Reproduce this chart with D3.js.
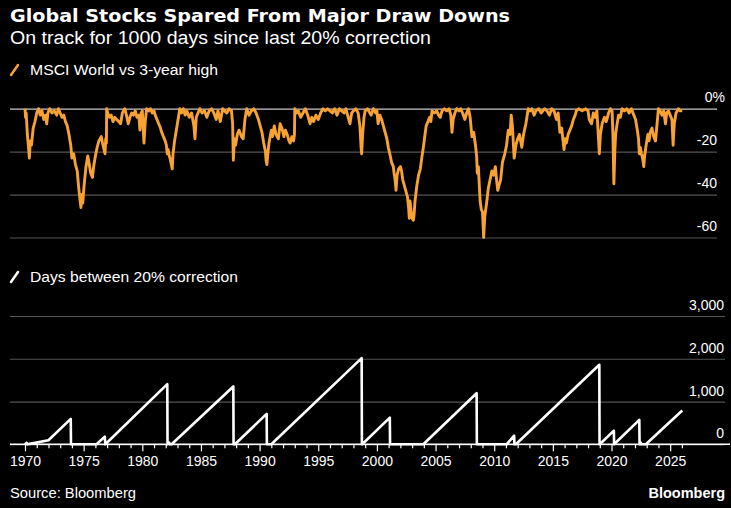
<!DOCTYPE html>
<html>
<head>
<meta charset="utf-8">
<script src="https://cdn.jsdelivr.net/npm/d3@7"></script>
<style>
  body { margin: 0; background: #000; }
  svg text { font-family: "Liberation Sans", Arial, sans-serif; fill: #fff; }
</style>
</head>
<body>
<div id="chart"></div>
<script>
// MSCI World vs 3-year high, % (year, value)
var drawdown = [
  [1970.00,0],[1970.05,-4],[1970.10,-2],[1970.20,-12],[1970.30,-18],[1970.37,-23],[1970.45,-15],[1970.55,-17],
  [1970.70,-9],[1970.85,-6],[1971.00,-2],[1971.15,0],[1971.30,-3],[1971.45,-1],[1971.60,-5],[1971.75,-3],
  [1971.85,-7],[1971.95,-2],[1972.10,0],[1972.30,-2],[1972.50,-1],[1972.70,-3],[1972.85,0],[1973.00,-2],
  [1973.15,-4],[1973.30,-3],[1973.45,-6],[1973.60,-8],[1973.75,-12],[1973.90,-17],[1974.00,-23],[1974.15,-21],
  [1974.30,-26],[1974.45,-29],[1974.60,-38],[1974.72,-44],[1974.77,-46],[1974.85,-40],[1974.92,-44],[1975.05,-35],
  [1975.20,-27],[1975.35,-22],[1975.45,-25],[1975.60,-30],[1975.75,-32],[1975.85,-27],[1976.00,-22],[1976.15,-18],
  [1976.30,-15],[1976.50,-13],[1976.65,-17],[1976.82,-21],[1976.88,-14],[1976.94,-16],[1976.96,0],[1977.05,-2],
  [1977.20,-4],[1977.35,-3],[1977.50,-6],[1977.65,-4],[1977.80,-5],[1978.00,-6],[1978.15,-7],[1978.30,-2],
  [1978.50,0],[1978.65,-3],[1978.80,-7],[1978.95,-4],[1979.10,-2],[1979.25,-3],[1979.40,-1],[1979.55,-4],
  [1979.70,-3],[1979.80,-10],[1979.90,-2],[1980.00,-1],[1980.14,-16],[1980.25,-6],[1980.37,0],[1980.55,-1],
  [1980.70,0],[1980.85,-2],[1981.00,-1],[1981.10,-3],[1981.25,-5],[1981.40,-7],[1981.55,-9],[1981.65,-11],
  [1981.80,-13],[1981.95,-15],[1982.05,-17],[1982.13,-21],[1982.20,-19],[1982.30,-22],[1982.40,-24],[1982.55,-28],
  [1982.62,-21],[1982.75,-15],[1982.90,-10],[1983.05,-5],[1983.20,0],[1983.35,-2],[1983.50,0],[1983.65,-3],
  [1983.80,-1],[1984.00,-4],[1984.20,-2],[1984.40,-8],[1984.49,-14],[1984.60,-4],[1984.75,-2],[1984.90,0],
  [1985.10,-2],[1985.30,-1],[1985.50,-4],[1985.70,-1],[1985.90,0],[1986.10,-2],[1986.30,-5],[1986.45,-1],
  [1986.65,-6],[1986.85,0],[1987.00,-1],[1987.20,-2],[1987.40,0],[1987.60,-1],[1987.70,-7],[1987.76,-24],
  [1987.85,-14],[1987.95,-17],[1988.10,-12],[1988.25,-10],[1988.45,-13],[1988.60,-14],[1988.75,-5],[1988.90,0],
  [1989.10,-3],[1989.30,-1],[1989.50,0],[1989.70,-2],[1989.90,-5],[1990.05,-8],[1990.20,-11],[1990.35,-16],
  [1990.50,-20],[1990.55,-24],[1990.62,-26],[1990.70,-21],[1990.80,-16],[1991.00,-10],[1991.10,-13],[1991.25,-8],
  [1991.40,-12],[1991.60,-14],[1991.75,-7],[1991.90,-9],[1992.07,-13],[1992.20,-10],[1992.35,-12],[1992.50,-15],
  [1992.60,-16],[1992.75,-13],[1992.90,-15],[1992.97,-12],[1993.00,0],[1993.15,-2],[1993.30,-1],[1993.50,-4],
  [1993.70,-2],[1993.90,0],[1994.10,-3],[1994.30,-7],[1994.45,-4],[1994.60,-6],[1994.80,-3],[1995.00,-5],
  [1995.20,-2],[1995.40,0],[1995.60,-1],[1995.80,0],[1996.00,-1],[1996.20,-2],[1996.40,0],[1996.60,-3],
  [1996.80,0],[1997.00,-1],[1997.20,-2],[1997.35,0],[1997.55,-4],[1997.70,-7],[1997.85,-2],[1998.00,-1],
  [1998.20,0],[1998.40,-2],[1998.55,-8],[1998.65,-18],[1998.70,-21],[1998.78,-12],[1998.90,-4],[1999.00,-1],
  [1999.20,0],[1999.30,-1],[1999.50,-3],[1999.70,0],[1999.90,-2],[2000.00,-1],[2000.10,-7],[2000.25,-3],
  [2000.40,-5],[2000.55,-8],[2000.70,-11],[2000.85,-14],[2000.97,-18],[2001.10,-21],[2001.25,-25],[2001.40,-27],
  [2001.46,-30],[2001.55,-33],[2001.63,-38],[2001.72,-31],[2001.85,-28],[2002.00,-27],[2002.10,-29],[2002.20,-33],
  [2002.30,-35],[2002.45,-38],[2002.60,-41],[2002.70,-46],[2002.76,-51],[2002.82,-43],[2002.90,-47],[2003.00,-51],
  [2003.10,-52],[2003.16,-50],[2003.25,-43],[2003.40,-36],[2003.55,-31],[2003.70,-28],[2003.85,-22],[2003.96,-18],
  [2004.10,-12],[2004.20,-8],[2004.35,-6],[2004.50,-4],[2004.60,-6],[2004.70,-1],[2004.90,-2],[2005.10,-1],
  [2005.25,-3],[2005.40,-4],[2005.55,-1],[2005.75,0],[2005.95,-1],[2006.15,0],[2006.30,-3],[2006.40,-11],
  [2006.50,-5],[2006.65,-2],[2006.80,0],[2007.00,-1],[2007.15,0],[2007.30,-2],[2007.50,-5],[2007.65,-2],
  [2007.80,0],[2007.95,-4],[2008.10,-13],[2008.25,-11],[2008.40,-17],[2008.50,-22],[2008.56,-30],[2008.65,-27],
  [2008.75,-38],[2008.80,-43],[2008.90,-47],[2009.00,-48],[2009.10,-60],[2009.20,-50],[2009.35,-44],[2009.50,-37],
  [2009.65,-33],[2009.80,-29],[2009.95,-31],[2010.10,-27],[2010.20,-33],[2010.30,-38],[2010.40,-36],[2010.55,-33],
  [2010.70,-25],[2010.90,-21],[2011.05,-17],[2011.20,-10],[2011.35,-12],[2011.45,-3],[2011.55,-8],[2011.70,-23],
  [2011.85,-17],[2012.00,-14],[2012.15,-12],[2012.35,-18],[2012.50,-12],[2012.70,-7],[2012.90,0],[2013.05,-1],
  [2013.20,0],[2013.40,-3],[2013.55,-1],[2013.80,0],[2014.00,-2],[2014.15,-1],[2014.30,0],[2014.50,-1],
  [2014.70,-3],[2014.90,0],[2015.10,-1],[2015.30,-5],[2015.45,-2],[2015.60,-11],[2015.75,-9],[2015.85,-14],
  [2015.95,-19],[2016.05,-14],[2016.15,-16],[2016.30,-12],[2016.45,-10],[2016.60,-8],[2016.75,-5],[2016.90,-3],
  [2017.00,-1],[2017.20,0],[2017.50,-1],[2017.80,0],[2018.00,-1],[2018.10,-5],[2018.30,-7],[2018.45,-2],
  [2018.60,-4],[2018.75,-1],[2018.85,-10],[2018.96,-21],[2019.05,-12],[2019.20,-7],[2019.40,-4],[2019.55,-6],
  [2019.75,-2],[2019.90,0],[2020.05,-1],[2020.12,-12],[2020.20,-35],[2020.28,-20],[2020.35,-12],[2020.45,-8],
  [2020.60,-3],[2020.75,-4],[2020.90,0],[2021.10,-1],[2021.30,0],[2021.50,-2],[2021.70,0],[2021.90,-3],
  [2022.05,-5],[2022.20,-10],[2022.30,-14],[2022.37,-21],[2022.45,-18],[2022.55,-21],[2022.65,-23],[2022.75,-27],
  [2022.82,-22],[2022.95,-17],[2023.10,-12],[2023.20,-15],[2023.30,-11],[2023.45,-9],[2023.60,-13],[2023.75,-15],
  [2023.85,-9],[2024.00,0],[2024.15,-1],[2024.30,-3],[2024.45,-1],[2024.60,-7],[2024.70,-2],[2024.85,-1],
  [2025.00,-3],[2025.15,-5],[2025.25,-17],[2025.35,-7],[2025.50,-2],[2025.70,0],[2025.85,-1],[2026.03,-1]
];

// Days between 20% correction (year, days)
var daysSince = [
  [1970.00,0],[1970.12,35],[1970.20,0],[1970.40,10],[1972.00,95],[1973.90,594],[1973.92,0],[1976.10,0],
  [1976.80,180],[1976.85,0],[1982.13,1406],[1982.15,0],[1982.30,40],[1982.35,0],[1982.50,0],[1987.76,1352],
  [1987.78,0],[1987.90,0],[1990.60,711],[1990.62,0],[1991.00,0],[1998.70,2016],[1998.72,0],[1998.75,0],
  [2001.10,625],[2001.12,0],[2003.96,0],[2008.50,1195],[2008.52,0],[2011.06,0],[2011.70,203],[2011.72,0],
  [2011.85,0],[2018.96,1860],[2018.98,0],[2019.00,0],[2020.20,320],[2020.22,0],[2022.37,570],[2022.39,0],
  [2022.50,40],[2022.55,0],[2022.93,0],[2026.03,790]
];

var topTicks = [0, -20, -40, -60];
var bottomTicks = [0, 1000, 2000, 3000];
var yearTicks = [1970,1971,1972,1973,1974,1975,1976,1977,1978,1979,1980,1981,1982,1983,1984,1985,1986,1987,
  1988,1989,1990,1991,1992,1993,1994,1995,1996,1997,1998,1999,2000,2001,2002,2003,2004,2005,2006,2007,2008,
  2009,2010,2011,2012,2013,2014,2015,2016,2017,2018,2019,2020,2021,2022,2023,2024,2025,2026];
var yearLabels = [1970,1975,1980,1985,1990,1995,2000,2005,2010,2015,2020,2025];

var width = 731, height = 508;

var svg = d3.select("#chart").append("svg")
    .attr("width", width)
    .attr("height", height)
    .style("background", "#000");

var x = d3.scaleLinear().domain([1970, 2026]).range([25, 681.9]);
var yTop = d3.scaleLinear().domain([-60, 0]).range([237.5, 108.7]);
var yBot = d3.scaleLinear().domain([0, 3000]).range([444.3, 316]);

// Headline texts
svg.append("text")
    .attr("x", 10).attr("y", 22)
    .attr("textLength", 500).attr("lengthAdjust", "spacingAndGlyphs")
    .style("font-family", "'DejaVu Sans', sans-serif")
    .style("font-weight", "bold").style("font-size", "17px")
    .text("Global Stocks Spared From Major Draw Downs");

svg.append("text")
    .attr("x", 10).attr("y", 44)
    .attr("textLength", 421).attr("lengthAdjust", "spacingAndGlyphs")
    .style("font-size", "18px")
    .text("On track for 1000 days since last 20% correction");

// Legends
function legend(y, color, label, len) {
  svg.append("line")
      .attr("x1", 11).attr("y1", y)
      .attr("x2", 18).attr("y2", y - 10)
      .attr("stroke", color).attr("stroke-width", 2.5)
      .attr("stroke-linecap", "round");
  svg.append("text")
      .attr("x", 30).attr("y", y)
      .attr("textLength", len).attr("lengthAdjust", "spacingAndGlyphs")
      .style("font-size", "15.5px")
      .text(label);
}
legend(75, "#f7a233", "MSCI World vs 3-year high", 188);
legend(282, "#fff", "Days between 20% correction", 208);

// Top panel grid + labels
var topAxis = svg.append("g")
    .attr("transform", "translate(717,0)")
    .call(d3.axisRight(yTop).tickValues(topTicks).tickSize(-707)
      .tickFormat(function(d) { return d === 0 ? "0%" : String(d); }));
topAxis.select(".domain").remove();
topAxis.selectAll("line")
    .attr("stroke", function(d) { return d === 0 ? "#c8c8c8" : "#555"; })
    .attr("stroke-width", 1.2);
topAxis.selectAll("text")
    .attr("x", function(d) { return d === 0 ? 8 : 0; })
    .attr("y", -7).attr("dy", 0)
    .attr("text-anchor", "end")
    .style("font-size", "14px")
    .attr("fill", "#fff");

// Bottom panel grid + labels
var botAxis = svg.append("g")
    .attr("transform", "translate(725,0)")
    .call(d3.axisRight(yBot).tickValues(bottomTicks).tickSize(-715).tickFormat(d3.format(",")));
botAxis.select(".domain").remove();
botAxis.selectAll("line")
    .attr("stroke", "#555")
    .attr("stroke-width", 1.2);
botAxis.selectAll("text")
    .attr("x", -1).attr("y", -6.5).attr("dy", 0)
    .attr("text-anchor", "end")
    .style("font-size", "14px")
    .attr("fill", "#fff");

// Lines
var topLine = d3.line()
    .x(function(d) { return x(d[0]); })
    .y(function(d) { return yTop(d[1]); });

svg.append("path")
    .datum(drawdown)
    .attr("fill", "none")
    .attr("stroke", "#f7a233")
    .attr("stroke-width", 2.9)
    .attr("stroke-linejoin", "round")
    .attr("d", topLine);

var botLine = d3.line()
    .x(function(d) { return x(d[0]); })
    .y(function(d) { return yBot(d[1]); });

svg.append("path")
    .datum(daysSince)
    .attr("fill", "none")
    .attr("stroke", "#fff")
    .attr("stroke-width", 2.6)
    .attr("stroke-linejoin", "round")
    .attr("d", botLine);

// X axis
var xAxis = svg.append("g")
    .attr("transform", "translate(0," + yBot(0) + ")")
    .call(d3.axisBottom(x).tickValues(yearTicks).tickSize(4)
      .tickFormat(function(d) { return yearLabels.indexOf(d) >= 0 ? d : ""; }));
xAxis.select(".domain").remove();
xAxis.append("line")
    .attr("x1", 10).attr("x2", 730)
    .attr("stroke", "#fff").attr("stroke-width", 1.5);
xAxis.selectAll(".tick line")
    .attr("stroke", "#fff").attr("stroke-width", 1.2)
    .attr("y2", function(d) { return yearLabels.indexOf(d) >= 0 ? 7 : 4; });
xAxis.selectAll(".tick text")
    .attr("y", 12).attr("dy", "0.71em")
    .style("font-size", "14px")
    .attr("fill", "#fff");

// Footer
svg.append("text")
    .attr("x", 10).attr("y", 498)
    .attr("textLength", 126).attr("lengthAdjust", "spacingAndGlyphs")
    .style("font-size", "15px")
    .text("Source: Bloomberg");

svg.append("text")
    .attr("x", 725).attr("y", 498)
    .attr("text-anchor", "end")
    .style("font-weight", "bold").style("font-size", "14.5px")
    .text("Bloomberg");
</script>
</body>
</html>
